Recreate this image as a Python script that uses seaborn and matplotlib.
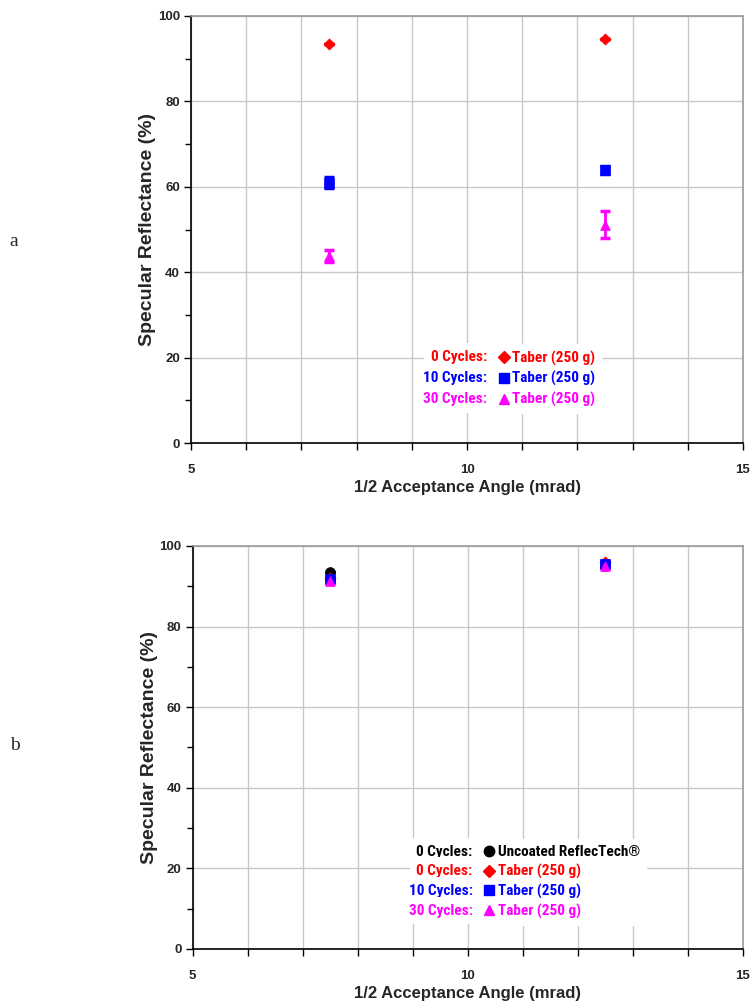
import numpy as np
import pandas as pd
import seaborn as sns
import matplotlib.pyplot as plt
from matplotlib.ticker import MultipleLocator, FixedLocator
from matplotlib.lines import Line2D

# data
angle = [7.5, 12.5]

# panel a
a_labels = ["0 Cycles:", "10 Cycles:", "30 Cycles:"]
a_series = ["Taber (250 g)", "Taber (250 g)", "Taber (250 g)"]
a_values = [[93.5, 94.7], [61.0, 63.9], [43.7, 51.1]]
a_errors = [[0.0, 0.0], [1.3, 1.0], [1.4, 3.2]]
a_colors = ["#ff0000", "#0000ff", "#ff00ff"]
a_markers = ["D", "s", "^"]

# panel b
b_labels = ["0 Cycles:", "0 Cycles:", "10 Cycles:", "30 Cycles:"]
b_series = ["Uncoated ReflecTech\u00ae", "Taber (250 g)", "Taber (250 g)", "Taber (250 g)"]
b_values = [[93.6, 95.0], [92.0, 95.9], [91.8, 95.4], [91.4, 95.0]]
b_errors = [[0.0, 0.0], [0.3, 0.3], [0.4, 0.3], [0.4, 0.3]]
b_colors = ["#000000", "#ff0000", "#0000ff", "#ff00ff"]
b_markers = ["o", "D", "s", "^"]

sns.set_style("white")
plt.rcParams['font.family'] = ['Liberation Sans', 'DejaVu Sans']

fig = plt.figure(figsize=(7.53, 10.06), dpi=100)
ax_a = fig.add_axes([0.2537, 0.5596, 0.733, 0.4245])
ax_b = fig.add_axes([0.2557, 0.0567, 0.731, 0.4006])

msizes = {"D": 32, "s": 50, "^": 50, "o": 50}
lsizes = {"D": 6, "s": 7.5, "^": 7.5, "o": 7.5}


def draw_panel(ax, labels, series, values, errors, colors, markers, leg_x, leg_y, spacing):
    for i in range(len(labels)):
        df = pd.DataFrame({"x": angle, "y": values[i]})
        ax.errorbar(angle, values[i], yerr=errors[i], fmt="none", ecolor=colors[i],
                    elinewidth=2, capsize=3.5, capthick=2.5, zorder=3)
        sns.scatterplot(data=df, x="x", y="y", marker=markers[i], color=colors[i],
                        s=msizes[markers[i]], edgecolor=colors[i], linewidth=0.5,
                        ax=ax, zorder=4)

    ax.set_xlim(5, 15)
    ax.set_ylim(0, 100)
    ax.xaxis.set_major_locator(FixedLocator(np.arange(5, 16, 1)))
    ax.set_xticklabels([str(v) if v in (5, 10, 15) else "" for v in range(5, 16)])
    ax.yaxis.set_major_locator(MultipleLocator(20))
    ax.yaxis.set_minor_locator(MultipleLocator(10))
    ax.grid(True, which="major", color="#c8c8c8", linewidth=1.0)
    ax.set_axisbelow(True)
    for side in ["top", "right"]:
        ax.spines[side].set_color("#999999")
        ax.spines[side].set_linewidth(1.2)
    for side in ["left", "bottom"]:
        ax.spines[side].set_color("black")
        ax.spines[side].set_linewidth(1.2)
    ax.tick_params(axis="both", which="both", direction="out", color="black",
                   length=5, width=1, labelsize=9.5)
    ax.tick_params(axis="x", pad=10)
    ax.tick_params(axis="y", pad=3)
    ax.tick_params(axis="y", which="minor", length=4)
    ax.tick_params(left=True, bottom=True, which="both")
    for lab in ax.get_xticklabels() + ax.get_yticklabels():
        lab.set_fontweight("bold")
    ax.set_xlabel("1/2 Acceptance Angle (mrad)", fontsize=12, fontweight="bold", labelpad=3)
    ax.set_ylabel("Specular Reflectance (%)", fontsize=14, fontweight="bold", labelpad=1)

    # legend: marker + sample name, cycle count written to the left of each row
    marks = [Line2D([], [], linestyle="none", marker=markers[i], color=colors[i],
                    markersize=lsizes[markers[i]]) for i in range(len(labels))]
    leg = ax.legend(marks, series, loc="upper left",
                    bbox_to_anchor=(leg_x, leg_y), frameon=True, framealpha=1,
                    edgecolor="white", fancybox=False, handlelength=0.8,
                    handletextpad=0.15, labelspacing=spacing,
                    borderpad=0.4, borderaxespad=0,
                    prop={"family": "Roboto Condensed", "weight": "bold", "size": 11})
    for i, t in enumerate(leg.get_texts()):
        t.set_color(colors[i])
        ax.annotate(labels[i], xy=(0, 0.5), xycoords=t, xytext=(-18, 0.5),
                    textcoords="offset points", ha="right", va="center",
                    color=colors[i], family="Roboto Condensed", fontweight="bold",
                    fontsize=11,
                    bbox=dict(facecolor="white", edgecolor="none", pad=5))


draw_panel(ax_a, a_labels, a_series, a_values, a_errors, a_colors, a_markers,
           0.544, 0.231, 0.38)
draw_panel(ax_b, b_labels, b_series, b_values, b_errors, b_colors, b_markers,
           0.517, 0.272, 0.31)

fig.text(0.013, 0.755, "a", fontsize=14, family="Liberation Serif")
fig.text(0.013, 0.254, "b", fontsize=14, family="Liberation Serif")

fig.canvas.draw()
fig.savefig("out.png", dpi=100)
